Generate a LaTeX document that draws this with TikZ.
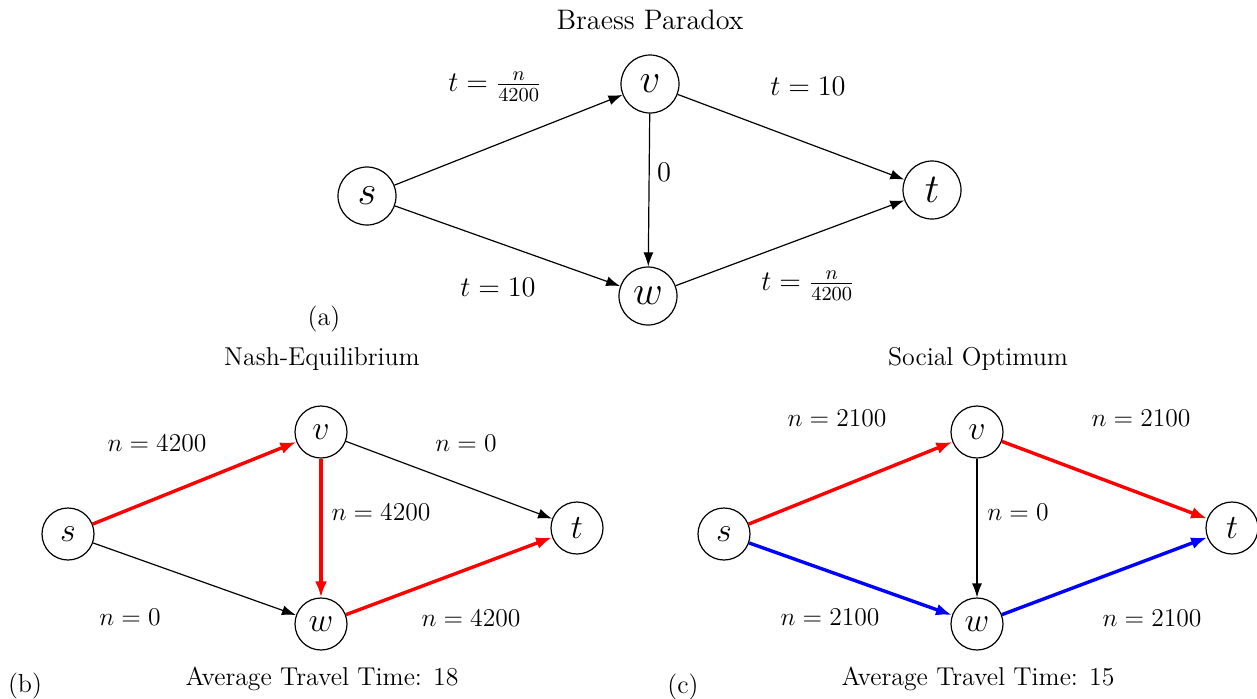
\RequirePackage{fix-cm}
\documentclass[tikz,border=0pt]{standalone}
\usepackage{fontspec}
\usetikzlibrary{arrows.meta}
\tikzset{
  vtxa/.style={circle, draw, line width=0.6pt, minimum size=29pt, inner sep=0pt, font=\fontsize{20.5}{24}\selectfont},
  vtxb/.style={circle, draw, line width=0.6pt, minimum size=26pt, inner sep=0pt, font=\fontsize{17}{20}\selectfont},
  thin edge/.style={line width=0.6pt, -{Latex[length=7pt,width=5pt]}},
  red edge/.style={line width=1.7pt, red, -{Latex[length=8pt,width=6pt]}},
  blue edge/.style={line width=1.7pt, blue, -{Latex[length=8pt,width=6pt]}},
  lbla/.style={inner sep=0pt, font=\fontsize{14.2}{17}\selectfont},
  lblb/.style={inner sep=0pt, font=\fontsize{12.8}{16}\selectfont},
  title/.style={inner sep=0pt, font=\fontsize{12.9}{15}\selectfont},
  panel/.style={inner sep=0pt, font=\fontsize{13}{15}\selectfont},
}
\begin{document}
\begin{tikzpicture}[x=0.5pt, y=-0.5pt]
\useasboundingbox (0,0) rectangle (1257,698);
% ---------- (a)
\node[title, font=\fontsize{14.1}{16}\selectfont] (ta) at (650,20) {Braess Paradox};
\node[vtxa] (as) at (367,196) {$s$};
\node[vtxa] (av) at (650,84) {$v$};
\node[vtxa] (at) at (932,190) {$t$};
\node[vtxa] (aw) at (648,296) {$w$};
\draw[thin edge] (as) -- (av);
\draw[thin edge] (av) -- (at);
\draw[thin edge] (av) -- (aw);
\draw[thin edge] (as) -- (aw);
\draw[thin edge] (aw) -- (at);
\node[lbla] (la1) at (495,87) {$t=\frac{n}{4200}$};
\node[lbla] (la2) at (808,86) {$t=10$};
\node[lbla] (la3) at (664,172) {$0$};
\node[lbla] (la4) at (498,287) {$t=10$};
\node[lbla] (la5) at (808,286) {$t=\frac{n}{4200}$};
\node[panel] (pa) at (324,319) {(a)};
% ---------- (b)
\node[title] (tb) at (322,359) {Nash-Equilibrium};
\node[vtxb] (bs) at (68,534) {$s$};
\node[vtxb] (bv) at (321,432) {$v$};
\node[vtxb] (bt) at (577,528) {$t$};
\node[vtxb] (bw) at (321,624) {$w$};
\draw[red edge] (bs) -- (bv);
\draw[thin edge] (bv) -- (bt);
\draw[red edge] (bv) -- (bw);
\draw[thin edge] (bs) -- (bw);
\draw[red edge] (bw) -- (bt);
\node[lblb] (lb1) at (157,443) {$n=4200$};
\node[lblb] (lb2) at (466,443) {$n=0$};
\node[lblb] (lb3) at (381,512) {$n=4200$};
\node[lblb] (lb4) at (130,617) {$n=0$};
\node[lblb] (lb5) at (471,618) {$n=4200$};
\node[title] (ab) at (322,679) {Average Travel Time: 18};
\node[panel] (pb) at (25,686) {(b)};
% ---------- (c)
\node[title] (tc) at (978,359) {Social Optimum};
\node[vtxb] (cs) at (724,534) {$s$};
\node[vtxb] (cv) at (977,432) {$v$};
\node[vtxb] (ct) at (1232,528) {$t$};
\node[vtxb] (cw) at (977,624) {$w$};
\draw[red edge] (cs) -- (cv);
\draw[red edge] (cv) -- (ct);
\draw[thin edge] (cv) -- (cw);
\draw[blue edge] (cs) -- (cw);
\draw[blue edge] (cw) -- (ct);
\node[lblb] (lc1) at (837,418) {$n=2100$};
\node[lblb] (lc2) at (1141,418) {$n=2100$};
\node[lblb] (lc3) at (1018,512) {$n=0$};
\node[lblb] (lc4) at (830,617) {$n=2100$};
\node[lblb] (lc5) at (1152,618) {$n=2100$};
\node[title] (ac) at (978,679) {Average Travel Time: 15};
\node[panel] (pc) at (683,687) {(c)};
\end{tikzpicture}
\end{document}
